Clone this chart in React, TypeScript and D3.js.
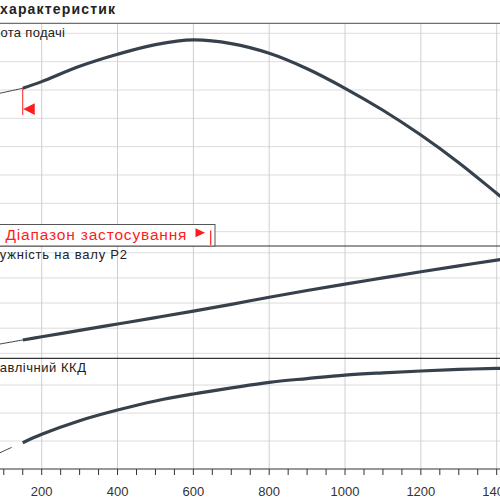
import React from 'react';
import { scaleLinear, line, curveCatmullRom, range } from 'd3';

// flow rate, Q
const flow = [150, 200, 300, 400, 500, 600, 700, 800, 900, 1000, 1100, 1200, 1300, 1400, 1420];
// head
const head = [14.12, 14.59, 15.67, 16.52, 17.2, 17.53, 17.27, 16.59, 15.5, 14.12, 12.57, 10.82, 8.87, 6.71, 6.28];
// shaft power P2
const power = [25.3, 26.6, 29.1, 31.65, 34.2, 36.8, 39.5, 42.3, 45.0, 47.55, 50.0, 52.45, 54.8, 57.1, 57.5];
// hydraulic efficiency
const eff = [38.8, 44.8, 54.5, 62.1, 68.6, 73.6, 77.9, 81.9, 84.6, 87.1, 88.7, 90.0, 91.1, 91.9, 92.0];

// thin extrapolated parts outside the application range
const flowThin = [60, 100, 150];
const headThin = [13.6, 13.83, 14.12];
const powerThin = [22.9, 23.97, 25.3];
const flowEffThin = [60, 90, 121];
const effThin = [27.8, 31.6, 35.5];

const xTicks = [200, 400, 600, 800, 1000, 1200, 1400];
const headTicks = [4, 6, 8, 10, 12, 14, 16, 18];
const powerTicks = [20, 30, 40, 50, 60];
const effTicks = [40, 60, 80];

const rangeStart = 150;
const font = '"Liberation Sans", Arial, sans-serif';
const curveColor = '#36414c';
const red = '#ff1c1c';

const x = scaleLinear().domain([200, 1400]).range([41.7, 496.7]);
const yH = scaleLinear().domain([4, 18]).range([231.7, 33.3]);
const yP = scaleLinear().domain([20, 60]).range([353.3, 252.8]);
const yE = scaleLinear().domain([20, 80]).range([469, 385]);

const panelTop = 23.3;
const border1 = 246;
const border2 = 358.3;
const axisY = 469;

const mkLine = (ys: number[], yScale: any, qs: number[]) =>
  line<number>()
    .x((_, i) => x(qs[i]))
    .y(d => yScale(d))
    .curve(curveCatmullRom.alpha(0.5))(ys) as string;

const App: React.FC = () => {
  const minor = range(0, 1451, 50);
  const mx = x(rangeStart);
  const my = yH(head[0]);
  return (
    <svg
      width={500}
      height={500}
      style={{ position: 'absolute', left: 0, top: 0, background: '#fff' }}
      fontFamily={font}
    >
      {/* title */}
      <text x={-59} y={13.5} fontSize={14} fontWeight="bold" fill="#222"
        textLength={174} lengthAdjust="spacing">
        Графік характеристик
      </text>

      {/* horizontal grid */}
      {headTicks.map(t => (
        <line key={'h' + t} x1={-40} x2={500} y1={yH(t)} y2={yH(t)} stroke="#dcdcdc" />
      ))}
      {powerTicks.map(t => (
        <line key={'p' + t} x1={-40} x2={500} y1={yP(t)} y2={yP(t)} stroke="#dcdcdc" />
      ))}
      {effTicks.map(t => (
        <line key={'e' + t} x1={-40} x2={500} y1={yE(t)} y2={yE(t)} stroke="#dcdcdc" />
      ))}
      {/* vertical grid */}
      {xTicks.map(t => (
        <line key={'v' + t} x1={x(t)} x2={x(t)} y1={panelTop} y2={axisY} stroke="#cfcfcf" />
      ))}

      {/* panel borders */}
      <line x1={-40} x2={500} y1={panelTop} y2={panelTop} stroke="#6f6f6f" strokeWidth={1.3} />
      <line x1={-40} x2={500} y1={border1} y2={border1} stroke="#333" strokeWidth={1.2} />
      <line x1={-40} x2={500} y1={border2} y2={border2} stroke="#333" strokeWidth={1.2} />
      <line x1={-40} x2={500} y1={axisY} y2={axisY} stroke="#333" strokeWidth={1.2} />

      {/* x axis ticks and labels */}
      {minor.map(t => (
        <line key={'t' + t} x1={x(t)} x2={x(t)} y1={axisY} y2={axisY + 6} stroke="#333" />
      ))}
      {xTicks.map(t => (
        <text key={'l' + t} x={x(t)} y={496} textAnchor="middle" fontSize={13} fill="#333">
          {t}
        </text>
      ))}

      {/* panel labels */}
      <text x={-23} y={36.5} fontSize={13} fill="#222" textLength={88} lengthAdjust="spacing">
        Висота подачі
      </text>
      <text x={-25} y={259} fontSize={13} fill="#222" textLength={152} lengthAdjust="spacing">
        Потужність на валу P2
      </text>
      <text x={-27} y={371.5} fontSize={13} fill="#222" textLength={113} lengthAdjust="spacing">
        Гідравлічний ККД
      </text>

      {/* curves */}
      <path d={mkLine(headThin, yH, flowThin)} fill="none" stroke={curveColor} strokeWidth={1} />
      <path d={mkLine(head, yH, flow)} fill="none" stroke={curveColor} strokeWidth={3.2} />
      <path d={mkLine(powerThin, yP, flowThin)} fill="none" stroke={curveColor} strokeWidth={1} />
      <path d={mkLine(power, yP, flow)} fill="none" stroke={curveColor} strokeWidth={3.2} />
      <path d={mkLine(effThin, yE, flowEffThin)} fill="none" stroke={curveColor} strokeWidth={1} />
      <path d={mkLine(eff, yE, flow)} fill="none" stroke={curveColor} strokeWidth={3.2} />

      {/* start of application range marker */}
      <line x1={mx} x2={mx} y1={my} y2={115} stroke={red} strokeWidth={1} />
      <path d={`M${mx + 0.5},109 L${mx + 12},103.3 L${mx + 12},115 Z`} fill={red} />

      {/* application range legend */}
      <rect x={-10} y={224.5} width={225} height={21.5} fill="#fff" stroke="#555" strokeWidth={1} />
      <text x={5.5} y={239.5} fontSize={15.5} fill={red} textLength={181} lengthAdjust="spacing">
        Діапазон застосування
      </text>
      <path d="M195.5,228.3 L205,232.8 L195.5,237.3 Z" fill={red} />
      <line x1={210.7} x2={210.7} y1={230.5} y2={245} stroke={red} strokeWidth={1.2} />
    </svg>
  );
};

export default App;
